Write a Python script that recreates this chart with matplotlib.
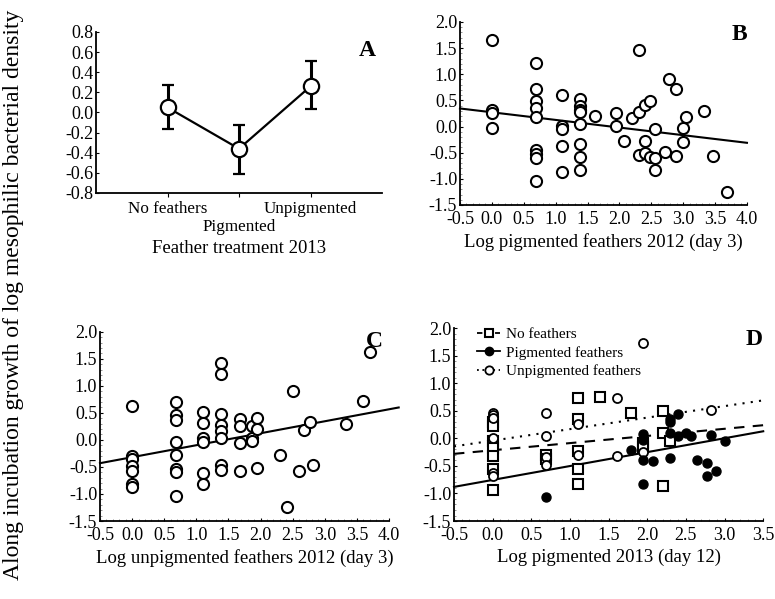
import numpy as np
import matplotlib
matplotlib.use("Agg")
import matplotlib.pyplot as plt
from matplotlib.lines import Line2D
from matplotlib.ticker import MultipleLocator, FormatStrFormatter

plt.rcParams['font.family'] = ['Liberation Serif', 'DejaVu Serif']
plt.rcParams['axes.unicode_minus'] = False

# ---- panel A: means with error bars
a_cats = ['No feathers', 'Pigmented', 'Unpigmented']
a_mean = [0.05, -0.36, 0.26]
a_low = [-0.16, -0.61, 0.03]
a_high = [0.27, -0.12, 0.51]
a_yticks = [-0.8, -0.6, -0.4, -0.2, 0.0, 0.2, 0.4, 0.6, 0.8]

# ---- panel B: pigmented feathers 2012
b_x = [0.0, 0.0, 0.0, 0.0,
       0.69, 0.69, 0.69, 0.69, 0.69, 0.69, 0.69, 0.69, 0.69,
       1.1, 1.1, 1.1, 1.1, 1.1,
       1.39, 1.39, 1.39, 1.39, 1.39, 1.39, 1.39, 1.39,
       1.61, 1.95, 1.95, 2.08, 2.2,
       2.3, 2.3, 2.3, 2.4, 2.4, 2.4, 2.48, 2.48,
       2.56, 2.56, 2.56, 2.71, 2.77, 2.89, 2.89,
       3.0, 3.0, 3.04, 3.33, 3.47, 3.69]
b_y = [1.66, 0.32, 0.25, -0.03,
       1.21, 0.72, 0.48, 0.35, 0.18, -0.45, -0.52, -0.60, -1.04,
       0.61, 0.01, -0.05, -0.37, -0.86,
       0.52, 0.40, 0.32, 0.27, 0.04, -0.33, -0.58, -0.83,
       0.20, 0.26, 0.01, -0.27, 0.16,
       1.46, 0.27, -0.54, 0.42, -0.27, -0.51, 0.48, -0.58,
       -0.05, -0.60, -0.84, -0.48, 0.91, 0.72, -0.56,
       -0.02, -0.29, 0.18, 0.29, -0.56, -1.25]
b_fit = [0.273, -0.146]          # intercept, slope
b_range = [-0.5, 4.0]

# ---- panel C: unpigmented feathers 2012
c_x = [0.0, 0.0, 0.0, 0.0, 0.0, 0.0, 0.0,
       0.69, 0.69, 0.69, 0.69, 0.69, 0.69, 0.69, 0.69,
       1.1, 1.1, 1.1, 1.1, 1.1, 1.1,
       1.39, 1.39, 1.39, 1.39, 1.39, 1.39, 1.39, 1.39,
       1.68, 1.68, 1.68, 1.68,
       1.86, 1.86, 1.86,
       1.95, 1.95, 1.95,
       2.3, 2.41, 2.5, 2.6, 2.68, 2.77, 2.82,
       3.33, 3.6, 3.71]
c_y = [0.62, -0.30, -0.36, -0.48, -0.57, -0.81, -0.87,
       0.70, 0.46, 0.36, -0.04, -0.28, -0.54, -0.60, -1.03,
       0.52, 0.32, 0.04, -0.03, -0.62, -0.82,
       1.43, 1.21, 0.47, 0.28, 0.17, 0.04, -0.46, -0.56,
       0.38, 0.26, -0.05, -0.57,
       0.26, 0.04, -0.02,
       0.40, 0.21, -0.52,
       -0.28, -1.24, 0.91, -0.57, 0.18, 0.33, -0.46,
       0.29, 0.72, 1.63]
c_fit = [-0.32, 0.2215]
c_range = [-0.5, 4.15]

# ---- panel D: 2013 day 12, three treatments
no_x = [0, 0, 0, 0, 0, 0, 0, 0.69, 0.69, 1.1, 1.1, 1.1, 1.1, 1.1,
        1.39, 1.79, 1.95, 1.95, 2.2, 2.2, 2.2, 2.3]
no_y = [0.30, 0.22, -0.05, -0.18, -0.32, -0.55, -0.93, -0.30, -0.38,
        0.73, 0.35, -0.23, -0.55, -0.82, 0.76, 0.47, -0.08, -0.15,
        0.50, 0.10, -0.87, -0.05]
pig_x = [0.69, 1.79, 1.95, 1.95, 1.95, 1.95, 2.08, 2.3, 2.3, 2.3, 2.3,
         2.4, 2.4, 2.5, 2.56, 2.64, 2.77, 2.77, 2.83, 2.89, 3.0]
pig_y = [-1.06, -0.21, 0.08, -0.02, -0.39, -0.82, -0.41, 0.36, 0.30, 0.10,
         -0.35, 0.44, 0.05, 0.10, 0.04, -0.40, -0.44, -0.69, 0.07, -0.59, -0.05]
unp_x = [0, 0, 0, 0, 0, 0, 0.69, 0.69, 0.69, 0.69, 1.1, 1.1,
         1.61, 1.61, 1.95, 1.95, 2.83]
unp_y = [0.47, 0.42, 0.37, 0.0, -0.62, -0.68, 0.47, 0.04, -0.33, -0.49,
         0.26, -0.30, 0.74, -0.32, 1.74, -0.25, 0.51]
no_fit = [-0.215, 0.13]
pig_fit = [-0.754, 0.2525]
unp_fit = [-0.04, 0.209]
d_range = [-0.5, 3.5]
d_labels = ['No feathers', 'Pigmented feathers', 'Unpigmented feathers']

fig = plt.figure(figsize=(7.75, 5.99), dpi=100)
axA = fig.add_axes([0.1239, 0.6778, 0.369, 0.2688])
axB = fig.add_axes([0.5935, 0.6578, 0.3703, 0.3055])
axC = fig.add_axes([0.129, 0.1302, 0.373, 0.316])
axD = fig.add_axes([0.5858, 0.1302, 0.399, 0.3217])

TICK = 13
LAB = 13.5


def style(ax):
    for s in ['top', 'right']:
        ax.spines[s].set_visible(False)
    for s in ['left', 'bottom']:
        ax.spines[s].set_linewidth(1.3)
    ax.tick_params(labelsize=TICK, direction='in', length=2.5, width=0.8, pad=2)
    ax.tick_params(axis='x', pad=4)
    ax.tick_params(which='minor', direction='in', length=1.5, width=0.5, color='0.4')


def scatter_axes(ax, xmax):
    style(ax)
    ax.set_xlim(-0.5, xmax)
    ax.set_ylim(-1.5, 2.0)
    for a in (ax.xaxis, ax.yaxis):
        a.set_major_locator(MultipleLocator(0.5))
        a.set_minor_locator(MultipleLocator(0.1))
        a.set_major_formatter(FormatStrFormatter('%.1f'))


def fitline(ax, fit, xr, **kw):
    xs = np.array(xr)
    ax.plot(xs, fit[0] + fit[1] * xs, color='black', clip_on=False, **kw)


# A
style(axA)
xa = np.arange(len(a_cats))
m = np.array(a_mean)
err = [m - np.array(a_low), np.array(a_high) - m]
axA.errorbar(xa, m, yerr=err, color='black', lw=1.6, elinewidth=2.2, capsize=4,
             capthick=2.2, marker='o', ms=11, mfc='white', mec='black', mew=1.6, zorder=3)
axA.set_xlim(-1, 3)
axA.set_ylim(-0.8, 0.8)
axA.set_yticks(a_yticks)
axA.set_yticklabels(['%.1f' % v for v in a_yticks])
axA.set_xticks(xa)
axA.set_xticklabels([a_cats[0], '\n' + a_cats[1], a_cats[2]], fontsize=12.3,
                    linespacing=1.1)
axA.tick_params(axis='x', direction='out', length=3, pad=3)
axA.set_xlabel('Feather treatment 2013', fontsize=LAB, labelpad=4)
axA.text(0.95, 0.885, 'A', transform=axA.transAxes, fontsize=17, fontweight='bold',
         ha='center', va='center')

# B
scatter_axes(axB, 4.0)
axB.plot(b_x, b_y, 'o', ms=8, mfc='white', mec='black', mew=1.5, zorder=3)
fitline(axB, b_fit, b_range, lw=1.5)
axB.set_xlabel('Log pigmented feathers 2012 (day 3)', fontsize=LAB, labelpad=4)
axB.text(0.975, 0.93, 'B', transform=axB.transAxes, fontsize=17, fontweight='bold',
         ha='center', va='center')

# C
scatter_axes(axC, 4.0)
axC.plot(c_x, c_y, 'o', ms=8, mfc='white', mec='black', mew=1.5, zorder=3, clip_on=False)
fitline(axC, c_fit, c_range, lw=1.5)
axC.set_xlabel('Log unpigmented feathers 2012 (day 3)', fontsize=LAB, labelpad=4)
axC.text(0.95, 0.95, 'C', transform=axC.transAxes, fontsize=17, fontweight='bold',
         ha='center', va='center')

# D
scatter_axes(axD, 3.5)
axD.plot(no_x, no_y, 's', ms=6.5, mfc='white', mec='black', mew=1.5, zorder=3)
axD.plot(unp_x, unp_y, 'o', ms=6.5, mfc='white', mec='black', mew=1.3, zorder=3)
axD.plot(pig_x, pig_y, 'o', ms=6.5, mfc='black', mec='black', zorder=4)
fitline(axD, no_fit, d_range, lw=1.5, ls=(0, (5, 4)))
fitline(axD, pig_fit, d_range, lw=1.5, ls='-')
fitline(axD, unp_fit, d_range, lw=1.5, ls=(0, (1, 3)))
axD.set_xlabel('Log pigmented 2013 (day 12)', fontsize=LAB, labelpad=4)
axD.text(0.97, 0.94, 'D', transform=axD.transAxes, fontsize=17, fontweight='bold',
         ha='center', va='center')
handles = [
    Line2D([], [], color='black', ls=(0, (3, 2)), lw=1.3, marker='s', ms=6,
           mfc='white', mec='black', mew=1.5),
    Line2D([], [], color='black', ls='-', lw=1.3, marker='o', ms=6,
           mfc='black', mec='black'),
    Line2D([], [], color='black', ls=(0, (1, 2)), lw=1.3, marker='o', ms=6,
           mfc='white', mec='black', mew=1.3),
]
axD.legend(handles, d_labels, loc='upper left', bbox_to_anchor=(0.04, 1.06),
           frameon=False, fontsize=11, handlelength=1.5, handletextpad=0.4,
           labelspacing=0.3, borderpad=0.2)

fig.text(0.017, 0.507, 'Along incubation growth of log mesophilic bacterial density',
         rotation=90, ha='center', va='center', fontsize=17)

fig.savefig('out.png', dpi=100)
